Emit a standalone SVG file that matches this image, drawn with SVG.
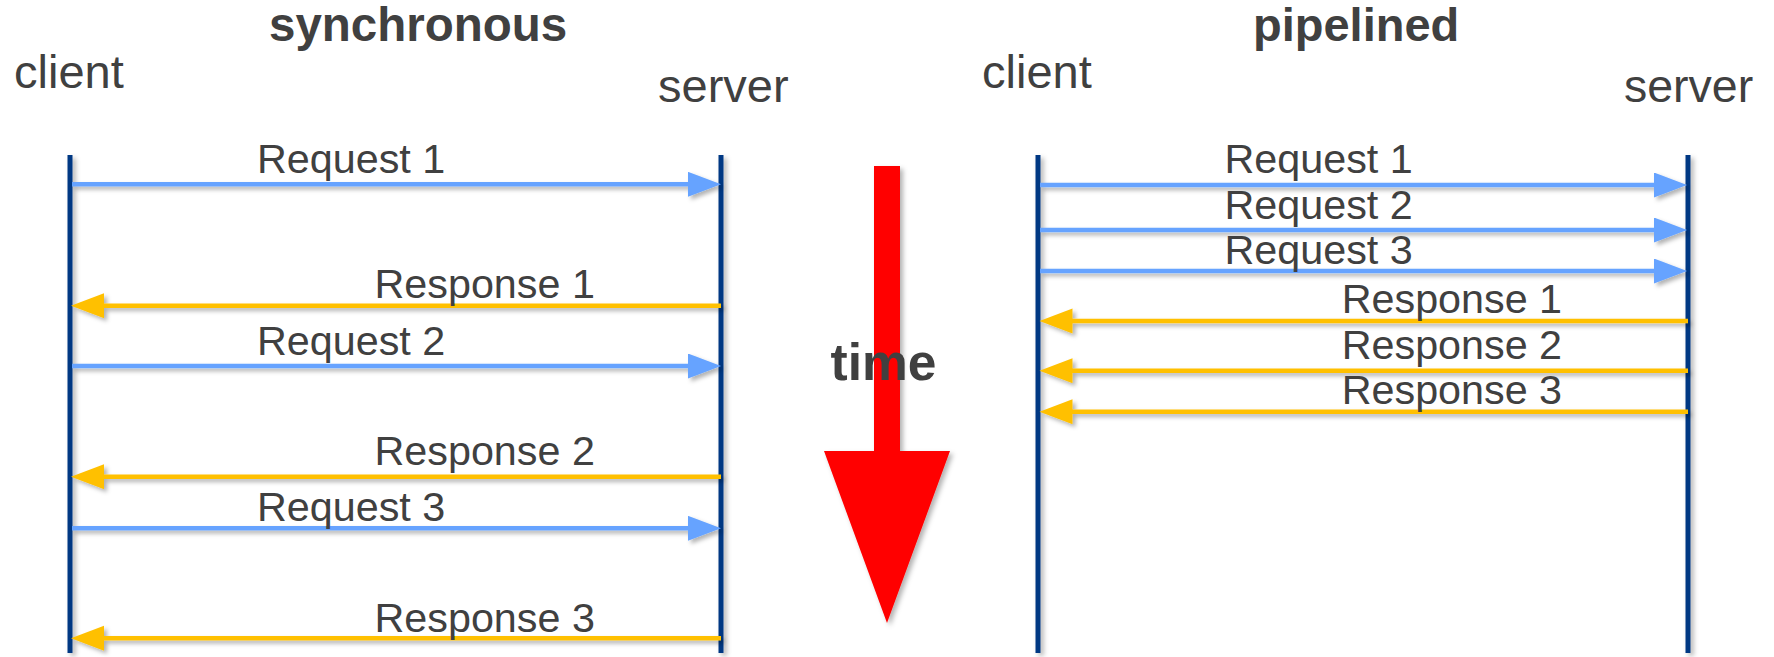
<svg xmlns="http://www.w3.org/2000/svg" width="1774" height="657" viewBox="0 0 1774 657">
  <style>
    .title { font-family: "Liberation Sans", Arial, sans-serif; font-weight: bold; font-size: 47.5px; fill: #404040; }
    .actor { font-family: "Liberation Sans", Arial, sans-serif; font-size: 47px; fill: #404040; }
    .lbl { font-family: "Liberation Sans", Arial, sans-serif; font-size: 41.3px; fill: #404040; }
    .time { font-family: "Liberation Sans", Arial, sans-serif; font-weight: bold; font-size: 51.5px; fill: #404040; }
    .life { stroke: #003883; stroke-width: 5; fill: none; }
    .req { stroke: #66A3FF; stroke-width: 4.5; fill: none; marker-end: url(#headReq); }
    .resp { stroke: #FFC000; stroke-width: 4.5; fill: none; marker-end: url(#headResp); }
  </style>
  <defs>
    <filter id="shadow" filterUnits="userSpaceOnUse" x="0" y="0" width="1774" height="657">
      <feDropShadow dx="3" dy="3" stdDeviation="2" flood-color="#000" flood-opacity="0.3"/>
    </filter>
    <filter id="shadowBig" filterUnits="userSpaceOnUse" x="0" y="0" width="1774" height="657">
      <feDropShadow dx="3" dy="3" stdDeviation="2.5" flood-color="#000" flood-opacity="0.3"/>
    </filter>
    <marker id="headReq" markerUnits="userSpaceOnUse" markerWidth="34" markerHeight="26" refX="5" refY="12.5" orient="auto">
      <path d="M0,0 L33,12.5 L0,25 Z" fill="#66A3FF"/>
    </marker>
    <marker id="headResp" markerUnits="userSpaceOnUse" markerWidth="34" markerHeight="26" refX="5" refY="12.5" orient="auto">
      <path d="M0,0 L33,12.5 L0,25 Z" fill="#FFC000"/>
    </marker>
  </defs>
  <rect width="1774" height="657" fill="#ffffff"/>

  <g id="title-sync"><text class="title" x="269" y="41">synchronous</text></g>
  <g id="title-pipe"><text class="title" x="1253" y="41" style="font-size:47px">pipelined</text></g>

  <g id="sync-client">
    <text class="actor" x="14" y="88">client</text>
    <line class="life" x1="70" y1="155" x2="70" y2="653" filter="url(#shadowBig)"/>
  </g>
  <g id="sync-server">
    <text class="actor" x="658" y="102">server</text>
    <line class="life" x1="721" y1="155" x2="721" y2="653" filter="url(#shadowBig)"/>
  </g>
  <g id="pipe-client">
    <text class="actor" x="982" y="88">client</text>
    <line class="life" x1="1038" y1="155" x2="1038" y2="653" filter="url(#shadowBig)"/>
  </g>
  <g id="pipe-server">
    <text class="actor" x="1624" y="102" style="font-size:46.5px">server</text>
    <line class="life" x1="1688" y1="155" x2="1688" y2="653" filter="url(#shadowBig)"/>
  </g>

  <g id="time-arrow">
    <polygon points="874,166 900,166 900,451 950,451 887,623 824,451 874,451" fill="#FF0000" filter="url(#shadowBig)"/>
    <text class="time" x="883.5" y="380" text-anchor="middle">time</text>
  </g>

  <g id="connectors">
    <g id="sync-messages">
      <line class="req" x1="72" y1="184.3" x2="693" y2="184.3" filter="url(#shadow)"/>
      <text class="lbl" x="257" y="173.3">Request 1</text>
      <line class="resp" x1="721" y1="305.7" x2="99" y2="305.7" filter="url(#shadow)"/>
      <text class="lbl" x="374.5" y="297.7">Response 1</text>
      <line class="req" x1="72" y1="366" x2="693" y2="366" filter="url(#shadow)"/>
      <text class="lbl" x="257" y="355">Request 2</text>
      <line class="resp" x1="721" y1="476.7" x2="99" y2="476.7" filter="url(#shadow)"/>
      <text class="lbl" x="374.5" y="465">Response 2</text>
      <line class="req" x1="72" y1="528.3" x2="693" y2="528.3" filter="url(#shadow)"/>
      <text class="lbl" x="257" y="520.7">Request 3</text>
      <line class="resp" x1="721" y1="638.3" x2="99" y2="638.3" filter="url(#shadow)"/>
      <text class="lbl" x="374.5" y="631.7">Response 3</text>
    </g>
    <g id="pipe-messages">
      <line class="req" x1="1040" y1="185" x2="1659" y2="185" filter="url(#shadow)"/>
      <text class="lbl" x="1224.5" y="173.3">Request 1</text>
      <line class="req" x1="1040" y1="230" x2="1659" y2="230" filter="url(#shadow)"/>
      <text class="lbl" x="1224.5" y="219">Request 2</text>
      <line class="req" x1="1040" y1="271" x2="1659" y2="271" filter="url(#shadow)"/>
      <text class="lbl" x="1224.5" y="264">Request 3</text>
      <line class="resp" x1="1688" y1="321" x2="1067.5" y2="321" filter="url(#shadow)"/>
      <text class="lbl" x="1341.7" y="313.3">Response 1</text>
      <line class="resp" x1="1688" y1="370.7" x2="1067.5" y2="370.7" filter="url(#shadow)"/>
      <text class="lbl" x="1341.7" y="359">Response 2</text>
      <line class="resp" x1="1688" y1="411.7" x2="1067.5" y2="411.7" filter="url(#shadow)"/>
      <text class="lbl" x="1341.7" y="404.3">Response 3</text>
    </g>
  </g>
</svg>
